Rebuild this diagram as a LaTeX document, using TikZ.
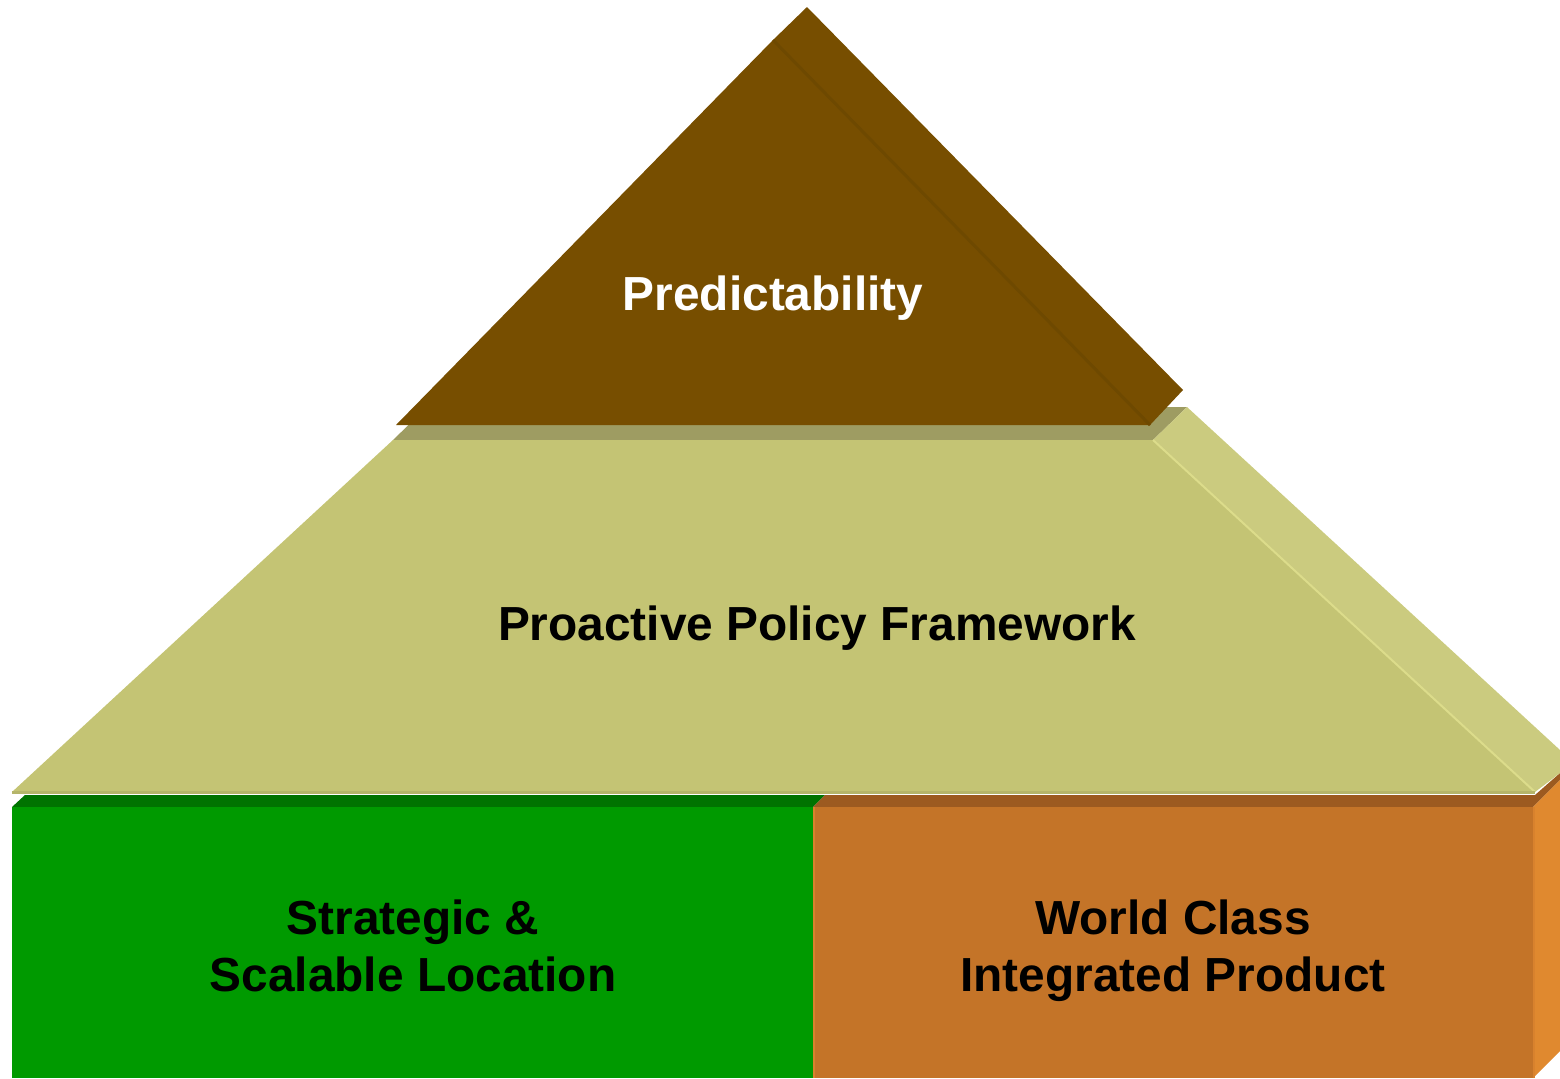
\documentclass[tikz,border=0pt]{standalone}
\usepackage{fontspec}
\setmainfont{Liberation Sans}
\usepackage{tikz, xcolor}
\newcommand{\pxunit}{0.01cm}

\definecolor{roofFront}{HTML}{774E00}
\definecolor{roofSeam}{HTML}{6E4900}
\definecolor{shelfTop}{HTML}{9E9C62}
\definecolor{policyFront}{HTML}{C4C474}
\definecolor{policySide}{HTML}{CBCB7F}
\definecolor{policySeam}{HTML}{DCDC8B}
\definecolor{policyBase}{HTML}{B5B56A}
\definecolor{greenTop}{HTML}{007300}
\definecolor{greenFront}{HTML}{009A00}
\definecolor{orangeTop}{HTML}{9C5A20}
\definecolor{orangeFront}{HTML}{C47428}
\definecolor{orangeSide}{HTML}{E0892F}
\definecolor{orangeEdge}{HTML}{D9822D}

\begin{document}
\begin{tikzpicture}
\useasboundingbox (0,0) rectangle (1560*\pxunit,-1078*\pxunit);
\tikzstyle{every node}=[font=\bfseries\fontsize{13.6pt}{16.2pt}\selectfont,
			align=center,
			anchor=base,
			inner sep=0pt
			]
\tikzstyle{whitelabel}=[text=white]
\tikzstyle{blacklabel}=[text=black]


\fill[greenTop] (12*\pxunit,-807*\pxunit) -- (25*\pxunit,-795*\pxunit) -- (825*\pxunit,-795*\pxunit) -- (813*\pxunit,-807*\pxunit) -- cycle;


\fill[orangeTop] (813*\pxunit,-807*\pxunit) -- (825*\pxunit,-795*\pxunit) -- (1535*\pxunit,-795*\pxunit) -- (1560*\pxunit,-773*\pxunit) -- (1560*\pxunit,-780*\pxunit) -- (1533*\pxunit,-807*\pxunit) -- cycle;


\fill[greenFront] (12*\pxunit,-807*\pxunit) rectangle (813*\pxunit,-1078*\pxunit);


\fill[orangeFront] (813*\pxunit,-807*\pxunit) rectangle (1533*\pxunit,-1078*\pxunit);


\fill[orangeSide] (1533*\pxunit,-807*\pxunit) -- (1560*\pxunit,-780*\pxunit) -- (1560*\pxunit,-1051*\pxunit) -- (1533*\pxunit,-1078*\pxunit) -- cycle;


\draw[orangeEdge, line width=2*\pxunit] (814*\pxunit,-807*\pxunit) -- (814*\pxunit,-1078*\pxunit);


\draw[orangeEdge, line width=2*\pxunit] (1534*\pxunit,-807*\pxunit) -- (1534*\pxunit,-1078*\pxunit);


\fill[shelfTop] (393*\pxunit,-440*\pxunit) -- (427*\pxunit,-407*\pxunit) -- (1187*\pxunit,-407*\pxunit) -- (1153*\pxunit,-440*\pxunit) -- cycle;


\fill[policyFront] (393*\pxunit,-440*\pxunit) -- (1153*\pxunit,-440*\pxunit) -- (1535*\pxunit,-792*\pxunit) -- (12*\pxunit,-792*\pxunit) -- cycle;


\fill[policySide] (1153*\pxunit,-440*\pxunit) -- (1187*\pxunit,-407*\pxunit) -- (1560*\pxunit,-750*\pxunit) -- (1560*\pxunit,-773*\pxunit) -- (1535*\pxunit,-792*\pxunit) -- cycle;


\draw[policySeam, line width=2*\pxunit] (1153*\pxunit,-440*\pxunit) -- (1535*\pxunit,-792*\pxunit);


\draw[policyBase, line width=3*\pxunit] (12*\pxunit,-792*\pxunit) -- (1535*\pxunit,-792*\pxunit);


\fill[roofFront] (773*\pxunit,-40*\pxunit) -- (807*\pxunit,-7*\pxunit) -- (1183*\pxunit,-390*\pxunit) -- (1150*\pxunit,-425*\pxunit) -- cycle;


\fill[roofFront] (396*\pxunit,-425*\pxunit) -- (773*\pxunit,-40*\pxunit) -- (1150*\pxunit,-425*\pxunit) -- cycle;


\draw[roofSeam, line width=3*\pxunit] (773*\pxunit,-40*\pxunit) -- (1150*\pxunit,-425*\pxunit);


\node[whitelabel] (predict) at (773*\pxunit,-310*\pxunit) {Predictability};


\node[blacklabel] (policy) at (817*\pxunit,-640*\pxunit) {Proactive Policy Framework};


\node[blacklabel] (location) at (413*\pxunit,-991*\pxunit) {Strategic \&\\Scalable Location};


\node[blacklabel] (product) at (1173*\pxunit,-991*\pxunit) {World Class\\Integrated Product};

\end{tikzpicture}
\end{document}
